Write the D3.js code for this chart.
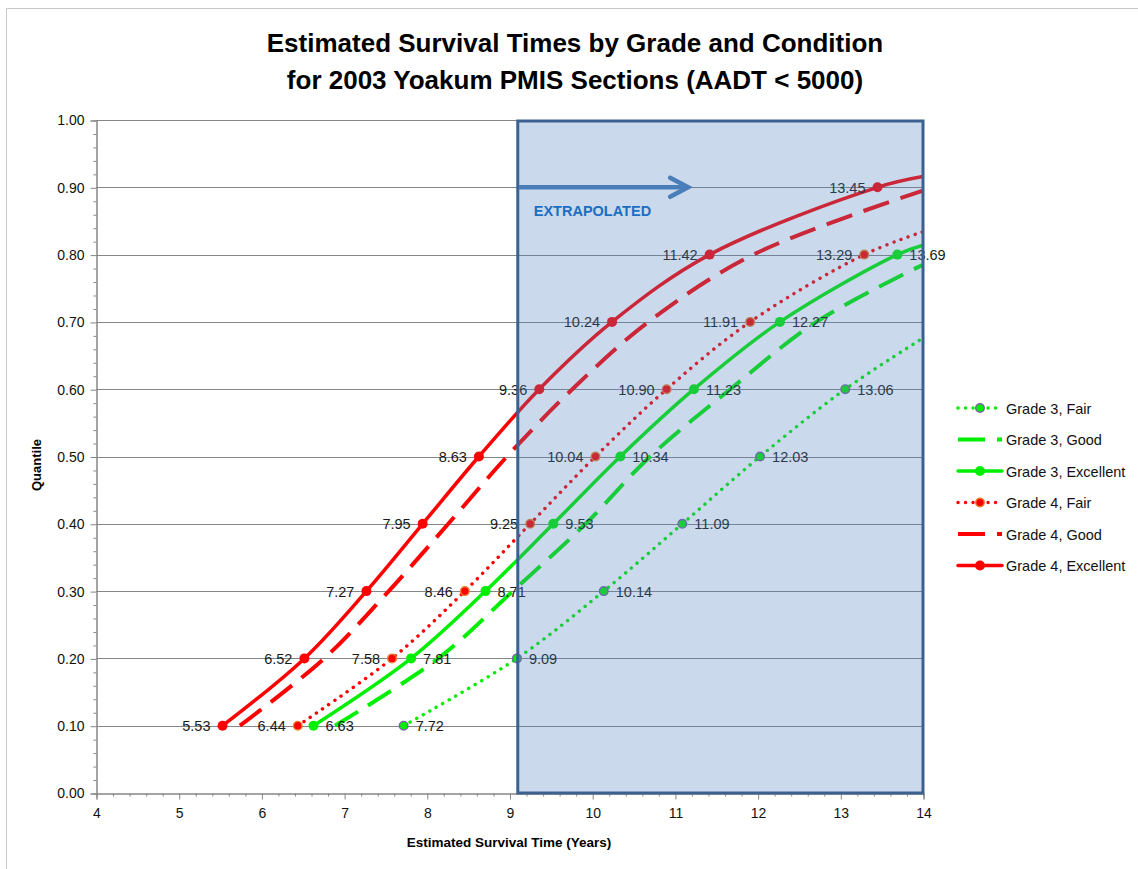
<!DOCTYPE html>
<html>
<head>
<meta charset="utf-8">
<script src="https://cdn.jsdelivr.net/npm/d3@7/dist/d3.min.js"></script>
<style>
  html, body { margin: 0; padding: 0; background: #fff; }
  svg { display: block; }
  text { font-family: "Liberation Sans", Arial, sans-serif; }
</style>
</head>
<body>
<svg id="chart" width="1138" height="869"></svg>
<script>
// Quantile levels at which survival times were estimated
const quantiles = [0.1, 0.2, 0.3, 0.4, 0.5, 0.6, 0.7, 0.8, 0.9];

// Estimated survival time (years) at each quantile, per grade / condition
const g3Fair      = [7.72, 9.09, 10.14, 11.09, 12.03, 13.06];
const g3Good      = [6.89, 8.14, 9.04, 9.92, 10.70, 11.67, 12.71];
const g3Excellent = [6.63, 7.81, 8.71, 9.53, 10.34, 11.23, 12.27, 13.69];
const g4Fair      = [6.44, 7.58, 8.46, 9.25, 10.04, 10.90, 11.91, 13.29];
const g4Good      = [5.74, 6.76, 7.54, 8.26, 8.97, 9.76, 10.68, 11.95];
const g4Excellent = [5.53, 6.52, 7.27, 7.95, 8.63, 9.36, 10.24, 11.42, 13.45];

// Quantile each fitted curve reaches at the 14-year edge of the axis
const quantileAtEdge = [0.676, 0.785, 0.814, 0.834, 0.895, 0.916];

const seriesNames = ["Grade 3, Fair", "Grade 3, Good", "Grade 3, Excellent",
                     "Grade 4, Fair", "Grade 4, Good", "Grade 4, Excellent"];
const seriesTimes = [g3Fair, g3Good, g3Excellent, g4Fair, g4Good, g4Excellent];

// Axis ticks
const xTicks = [4, 5, 6, 7, 8, 9, 10, 11, 12, 13, 14];
const yTicks = [0, 0.1, 0.2, 0.3, 0.4, 0.5, 0.6, 0.7, 0.8, 0.9, 1.0];

// Years beyond which estimates are extrapolated, and arrow end
const extrapStart = 9.1;
const arrowEnd = 11.16;

// ---- styling per series ----
const GREEN = "#00ee00", RED = "#ff0000";
const styles = [
  { color: GREEN, kind: "dot",   marker: true,  ring: "#7a62a6", side: "right" },
  { color: GREEN, kind: "dash",  marker: false },
  { color: GREEN, kind: "solid", marker: true,  ring: null, side: "right" },
  { color: RED,   kind: "dot",   marker: true,  ring: "#e8802a", side: "left" },
  { color: RED,   kind: "dash",  marker: false },
  { color: RED,   kind: "solid", marker: true,  ring: null, side: "left" }
];
function applyStroke(sel, st) {
  sel.attr("fill", "none").attr("stroke", st.color);
  if (st.kind === "dot") {
    sel.attr("stroke-width", 3.4).attr("stroke-linecap", "round").attr("stroke-dasharray", "0.1,7.4");
  } else if (st.kind === "dash") {
    sel.attr("stroke-width", 4).attr("stroke-linecap", "butt").attr("stroke-dasharray", "27,12");
  } else {
    sel.attr("stroke-width", 3.5).attr("stroke-linecap", "round");
  }
}

const svg = d3.select("#chart");
const L = 96, R = 923, T = 120, B = 793;
const x = d3.scaleLinear().domain([4, 14]).range([L, R]);
const y = d3.scaleLinear().domain([0, 1]).range([B, T]);
const AXIS = "#868686";

// chart frame
svg.append("path").attr("d", `M6.5,869 V8.5 H1138`).attr("fill", "none").attr("stroke", "#c8c8c8");

// title
const title = svg.append("text").attr("text-anchor", "middle").attr("font-weight", "bold")
  .attr("font-size", 26).attr("fill", "#000");
title.append("tspan").attr("x", 575).attr("y", 52).text("Estimated Survival Times by Grade and Condition");
title.append("tspan").attr("x", 575).attr("y", 89).text("for 2003 Yoakum PMIS Sections (AADT < 5000)");

// horizontal gridlines
svg.append("g").selectAll("line").data(yTicks.filter(d => d > 0)).join("line")
  .attr("x1", L).attr("x2", R).attr("y1", d => Math.round(y(d)) + 0.5).attr("y2", d => Math.round(y(d)) + 0.5)
  .attr("stroke", AXIS).attr("stroke-width", 1);

// y axis: minor then major
const yMinor = d3.range(0, 1.0001, 0.02).filter(v => Math.abs(v * 10 - Math.round(v * 10)) > 1e-6);
const yMinorG = svg.append("g").attr("transform", `translate(${L + 0.5},0.5)`)
  .call(d3.axisLeft(y).tickValues(yMinor).tickSize(3).tickFormat(""));
const yAxisG = svg.append("g").attr("transform", `translate(${L + 0.5},0.5)`)
  .call(d3.axisLeft(y).tickValues(yTicks).tickSize(6).tickPadding(6).tickFormat(d3.format(".2f")));
const xMinor = d3.range(4, 14.0001, 0.2).filter(v => Math.abs(v - Math.round(v)) > 1e-6);
const xMinorG = svg.append("g").attr("transform", `translate(0.5,${B + 0.5})`)
  .call(d3.axisBottom(x).tickValues(xMinor).tickSize(3).tickFormat(""));
const xAxisG = svg.append("g").attr("transform", `translate(0.5,${B + 0.5})`)
  .call(d3.axisBottom(x).tickValues(xTicks).tickSize(6).tickPadding(9).tickFormat(d3.format("d")));
[yMinorG, yAxisG, xMinorG, xAxisG].forEach(g => {
  g.select(".domain").attr("stroke", AXIS);
  g.selectAll(".tick line").attr("stroke", AXIS);
  g.selectAll(".tick text").attr("font-size", 14).attr("fill", "#111")
    .attr("font-family", "'Liberation Sans', Arial, sans-serif");
});

// axis titles
svg.append("text").attr("x", 509).attr("y", 847).attr("text-anchor", "middle")
  .attr("font-weight", "bold").attr("font-size", 13.5).text("Estimated Survival Time (Years)");
svg.append("text").attr("transform", "translate(41,465) rotate(-90)").attr("text-anchor", "middle")
  .attr("font-weight", "bold").attr("font-size", 13).text("Quantile");

// clip for curves
svg.append("defs").append("clipPath").attr("id", "plotClip")
  .append("rect").attr("x", L).attr("y", T).attr("width", R - L).attr("height", B - T);

const line = d3.line().x(d => x(d[0])).y(d => y(d[1])).curve(d3.curveCatmullRom.alpha(0.5));

const seriesData = seriesTimes.map((times, i) => {
  const pts = times.map((t, k) => [t, quantiles[k]]);
  return { name: seriesNames[i], pts, curve: pts.concat([[14, quantileAtEdge[i]]]), st: styles[i] };
});

const plot = svg.append("g").attr("clip-path", "url(#plotClip)");
seriesData.forEach(s => {
  plot.append("path").attr("d", line(s.curve)).call(applyStroke, s.st);
});

// markers
seriesData.filter(s => s.st.marker).forEach(s => {
  svg.append("g").selectAll("circle").data(s.pts).join("circle")
    .attr("cx", d => x(d[0])).attr("cy", d => y(d[1]))
    .attr("r", s.st.ring ? 4.3 : 5)
    .attr("fill", s.st.color)
    .attr("stroke", s.st.ring || "none").attr("stroke-width", s.st.ring ? 1.4 : 0);
});

// data labels
seriesData.filter(s => s.st.marker).forEach(s => {
  const left = s.st.side === "left";
  svg.append("g").selectAll("text").data(s.pts).join("text")
    .attr("x", d => x(d[0]) + (left ? -12 : 12)).attr("y", d => y(d[1]) + 5.5)
    .attr("text-anchor", left ? "end" : "start")
    .attr("font-size", 14.5).attr("fill", "#1a1a1a")
    .text(d => d[0].toFixed(2));
});

// extrapolated region: translucent panel over everything in it
svg.append("rect")
  .attr("x", x(extrapStart)).attr("y", T + 1)
  .attr("width", R - x(extrapStart)).attr("height", B - T - 1)
  .attr("fill", "rgba(79,129,189,0.3)")
  .attr("stroke", "#3b6190").attr("stroke-width", 3);

// arrow and caption
const ay = y(0.9);
svg.append("line").attr("x1", x(extrapStart) + 1).attr("x2", x(arrowEnd) - 1).attr("y1", ay).attr("y2", ay)
  .attr("stroke", "#4a7ebb").attr("stroke-width", 4.5);
svg.append("path")
  .attr("d", `M${x(arrowEnd) - 18},${ay - 9.5} L${x(arrowEnd)},${ay} L${x(arrowEnd) - 18},${ay + 9.5}`)
  .attr("fill", "none").attr("stroke", "#4a7ebb").attr("stroke-width", 4.5)
  .attr("stroke-linecap", "round").attr("stroke-linejoin", "miter");
svg.append("text").attr("x", x(extrapStart) + 16).attr("y", 216)
  .attr("font-weight", "bold").attr("font-size", 14.5).attr("fill", "#1c6fc0").text("EXTRAPOLATED");

// legend
const legend = svg.append("g");
seriesData.forEach((s, i) => {
  const ly = 408 + i * 31.5;
  const g = legend.append("g");
  g.append("line").attr("x1", 958).attr("x2", 1002).attr("y1", ly).attr("y2", ly).call(applyStroke, s.st);
  if (s.st.marker) {
    g.append("circle").attr("cx", 980).attr("cy", ly).attr("r", s.st.ring ? 4.3 : 5)
      .attr("fill", s.st.color).attr("stroke", s.st.ring || "none").attr("stroke-width", s.st.ring ? 1.4 : 0);
  }
  g.append("text").attr("x", 1006).attr("y", ly + 5.5).attr("font-size", 14.5).attr("fill", "#111").text(s.name);
});
</script>
</body>
</html>
